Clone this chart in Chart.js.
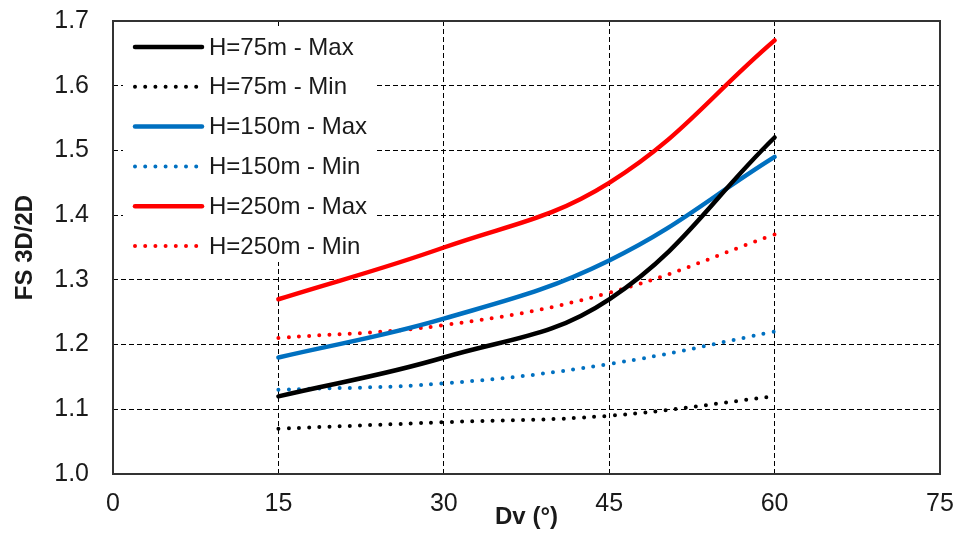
<!DOCTYPE html>
<html>
<head>
<meta charset="utf-8">
<script src="https://cdn.jsdelivr.net/npm/chart.js@4.4.1/dist/chart.umd.min.js"></script>
<style>
  html, body { margin: 0; padding: 0; background: #ffffff; }
  #wrap { width: 959px; height: 535px; position: relative; }
</style>
</head>
<body>
<div id="wrap"><canvas id="fsChart" width="959" height="535"></canvas></div>
<script>
// Dv angles (x values) and FS 3D/2D ratios
var dvValues = [15, 30, 45, 60];
var h75Max = [1.12, 1.18, 1.27, 1.52];
var h75Min = [1.07, 1.08, 1.09, 1.12];
var h150Max = [1.18, 1.24, 1.33, 1.49];
var h150Min = [1.13, 1.14, 1.17, 1.22];
var h250Max = [1.27, 1.35, 1.45, 1.67];
var h250Min = [1.21, 1.23, 1.28, 1.37];

var seriesLabels = ['H=75m - Max', 'H=75m - Min', 'H=150m - Max', 'H=150m - Min', 'H=250m - Max', 'H=250m - Min'];
var seriesValues = [h75Max, h75Min, h150Max, h150Min, h250Max, h250Min];
var seriesColors = ['#000000', '#000000', '#0070C0', '#0070C0', '#FF0000', '#FF0000'];
var seriesDotted = [false, true, false, true, false, true];

var xTicks = [0, 15, 30, 45, 60, 75];
var yMin = 1.0, yMax = 1.7, yStep = 0.1;

var textColor = '#1a1a1a';

function toPoints(vals) {
    return vals.map(function(v, i) { return { x: dvValues[i], y: v }; });
}

var datasets = seriesLabels.map(function(label, i) {
    return {
        label: label,
        data: toPoints(seriesValues[i]),
        borderColor: seriesColors[i],
        backgroundColor: seriesColors[i],
        borderWidth: seriesDotted[i] ? 4 : 4.5,
        borderDash: seriesDotted[i] ? [0, 10.2] : [],
        borderCapStyle: 'round',
        pointRadius: 0,
        tension: 0.4,
        fill: false
    };
});

// frame on top / right, like the plot border
var framePlugin = {
    id: 'frame',
    afterDatasetsDraw: function(chart) {
        var a = chart.chartArea, ctx = chart.ctx;
        ctx.save();
        ctx.strokeStyle = '#333333';
        ctx.lineWidth = 2;
        ctx.setLineDash([]);
        ctx.strokeRect(a.left, a.top, a.right - a.left, a.bottom - a.top);
        ctx.restore();
    }
};

// legend drawn inside the plot, top-left, white background
var insideLegend = {
    id: 'insideLegend',
    afterDraw: function(chart) {
        var ctx = chart.ctx;
        var a = chart.chartArea;
        var left = a.left + 10, top = a.top + 7;
        ctx.save();
        ctx.fillStyle = '#ffffff';
        ctx.fillRect(left, top, 252, 234);
        ctx.font = '24px Arial, "Liberation Sans", sans-serif';
        ctx.textBaseline = 'middle';
        ctx.textAlign = 'left';
        chart.data.datasets.forEach(function(ds, i) {
            var y = a.top + 26 + i * 39.8;
            ctx.strokeStyle = ds.borderColor;
            ctx.lineCap = 'round';
            ctx.lineWidth = ds.borderWidth;
            ctx.setLineDash(ds.borderDash);
            ctx.beginPath();
            ctx.moveTo(a.left + 22, y);
            ctx.lineTo(a.left + 89, y);
            ctx.stroke();
            ctx.setLineDash([]);
            ctx.fillStyle = textColor;
            ctx.fillText(ds.label, a.left + 96, y + 1);
        });
        ctx.restore();
    }
};

function noOverflow(scale) {
    scale.paddingTop = 0;
    scale.paddingBottom = 0;
    scale.paddingLeft = 0;
    scale.paddingRight = 0;
}

var ctx = document.getElementById('fsChart').getContext('2d');
var fsChart = new Chart(ctx, {
    type: 'line',
    data: { datasets: datasets },
    options: {
        responsive: false,
        animation: false,
        layout: {
            padding: { left: 0, right: 19, top: 21, bottom: 0 }
        },
        plugins: {
            legend: { display: false },
            tooltip: { enabled: false }
        },
        scales: {
            x: {
                type: 'linear',
                min: 0,
                max: 75,
                afterBuildTicks: function(scale) {
                    scale.ticks = xTicks.map(function(v) { return { value: v }; });
                },
                afterFit: function(scale) { scale.height = 61; noOverflow(scale); },
                border: { display: false, dash: [5, 3] },
                grid: {
                    color: function(c) {
                        return (c.tick.value === 0 || c.tick.value === 75) ? 'rgba(0,0,0,0)' : '#000000';
                    },
                    lineWidth: 1,
                    drawTicks: false
                },
                ticks: {
                    padding: 15,
                    color: textColor,
                    font: { family: 'Arial, "Liberation Sans", sans-serif', size: 25 },
                    maxRotation: 0
                },
                title: {
                    display: true,
                    text: 'Dv (°)',
                    color: textColor,
                    font: { family: 'Arial, "Liberation Sans", sans-serif', size: 24, weight: 'bold' },
                    padding: { top: 0, bottom: 3 }
                }
            },
            y: {
                min: yMin,
                max: yMax,
                afterFit: function(scale) { scale.width = 113; noOverflow(scale); },
                border: { display: false, dash: [5, 3] },
                grid: {
                    color: function(c) {
                        return (c.tick.value <= yMin + 1e-6 || c.tick.value >= yMax - 1e-6) ? 'rgba(0,0,0,0)' : '#000000';
                    },
                    lineWidth: 1,
                    drawTicks: false
                },
                ticks: {
                    stepSize: yStep,
                    padding: 24,
                    color: textColor,
                    font: { family: 'Arial, "Liberation Sans", sans-serif', size: 25 },
                    callback: function(v) { return Number(v).toFixed(1); }
                },
                title: {
                    display: true,
                    text: 'FS 3D/2D',
                    color: textColor,
                    font: { family: 'Arial, "Liberation Sans", sans-serif', size: 24, weight: 'bold' },
                    padding: { top: 11, bottom: 0 }
                }
            }
        }
    },
    plugins: [framePlugin, insideLegend]
});
</script>
</body>
</html>
